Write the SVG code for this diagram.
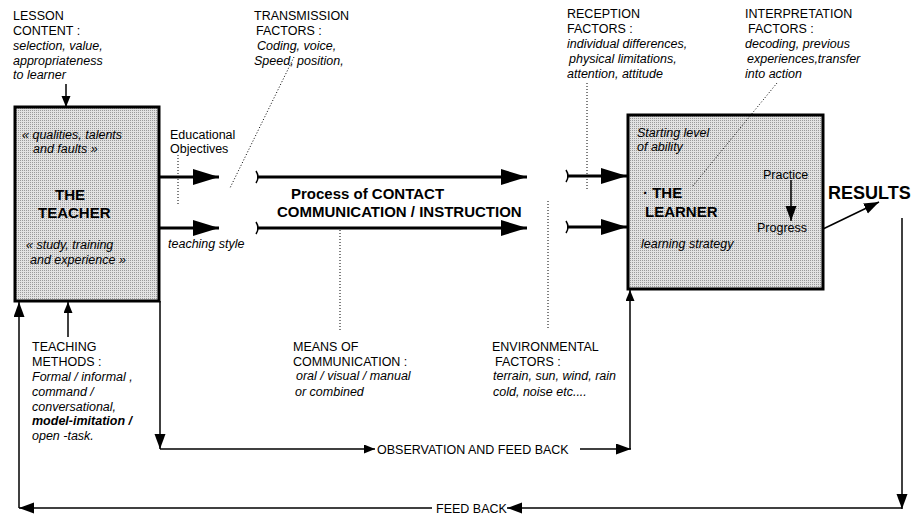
<svg xmlns="http://www.w3.org/2000/svg" width="913" height="515" viewBox="0 0 913 515">
<style>
text{font-family:"Liberation Sans",Arial,sans-serif;font-size:12.5px;fill:#000}
.i{font-style:italic}
.b{font-weight:bold;font-size:15px}
.box{fill:url(#dots);stroke:#000;stroke-width:3}
.thin{stroke:#000;stroke-width:1.5;fill:none}
.thick{stroke:#000;stroke-width:3;fill:none}
.dot{stroke:#000;stroke-width:1;stroke-dasharray:1 2;fill:none}
</style>
<defs>
<pattern id="dots" width="2" height="2" patternUnits="userSpaceOnUse">
<rect width="2" height="2" fill="#e2e2e2"/>
<rect width="1" height="1" fill="#9a9a9a"/>
</pattern>
<marker id="big" markerUnits="userSpaceOnUse" markerWidth="28" markerHeight="18" refX="26" refY="8" orient="auto">
<path d="M0,0 L26,8 L0,16 z" fill="#000"/>
</marker>
<marker id="sm" markerUnits="userSpaceOnUse" markerWidth="12" markerHeight="10" refX="11" refY="4.5" orient="auto">
<path d="M0,0 L11,4.5 L0,9 z" fill="#000"/>
</marker>
<marker id="med" markerUnits="userSpaceOnUse" markerWidth="16" markerHeight="12" refX="15" refY="5.5" orient="auto">
<path d="M0,0 L15,5.5 L0,11 z" fill="#000"/>
</marker>
</defs>

<g id="teacher">
<rect class="box" x="15" y="107" width="144" height="194"/>
<text class="i" x="22" y="139">« qualities, talents</text>
<text class="i" x="33" y="153">and faults »</text>
<text class="b" x="55" y="200">THE</text>
<text class="b" x="38" y="218">TEACHER</text>
<text class="i" x="26" y="249">« study, training</text>
<text class="i" x="30" y="264">and experience »</text>
</g>

<g id="learner">
<rect class="box" x="628" y="115" width="195" height="174"/>
<text class="i" x="637" y="137">Starting level</text>
<text class="i" x="637" y="151">of ability</text>
<text class="b" x="643" y="198">· THE</text>
<text class="b" x="645" y="217">LEARNER</text>
<text class="i" x="641" y="248">learning strategy</text>
<text x="763" y="179">Practice</text>
<text x="757" y="232">Progress</text>
</g>

<g id="lesson-content">
<text x="13" y="19.5">LESSON</text>
<text x="13" y="34.5">CONTENT :</text>
<text class="i" x="13" y="49.5">selection, value,</text>
<text class="i" x="13" y="64.5">appropriateness</text>
<text class="i" x="13" y="79">to learner</text>
</g>

<g id="transmission">
<text x="254" y="19.5">TRANSMISSION</text>
<text x="256" y="34.5">FACTORS :</text>
<text class="i" x="257" y="49.5">Coding, voice,</text>
<text class="i" x="254" y="64.5">Speed, position,</text>
</g>

<g id="reception">
<text x="567" y="18">RECEPTION</text>
<text x="567" y="33">FACTORS :</text>
<text class="i" x="567" y="48">individual differences,</text>
<text class="i" x="569" y="63">physical limitations,</text>
<text class="i" x="567" y="78">attention, attitude</text>
</g>

<g id="interpretation">
<text x="745" y="18">INTERPRETATION</text>
<text x="748" y="33">FACTORS :</text>
<text class="i" x="745" y="48">decoding, previous</text>
<text class="i" x="747" y="63">experiences,transfer</text>
<text class="i" x="745" y="78">into action</text>
</g>

<g id="objectives">
<text x="170" y="139">Educational</text>
<text x="170" y="153">Objectives</text>
</g>
<g id="teaching-style"><text class="i" x="168" y="248">teaching style</text></g>

<g id="process">
<text class="b" x="291" y="199">Process of CONTACT</text>
<text class="b" x="277" y="217">COMMUNICATION / INSTRUCTION</text>
</g>

<g id="results"><text x="828" y="199" style="font-weight:bold;font-size:18px">RESULTS</text></g>

<g id="teaching-methods">
<text x="32" y="351">TEACHING</text>
<text x="32" y="366">METHODS :</text>
<text class="i" x="32" y="381">Formal / informal ,</text>
<text class="i" x="32" y="396">command /</text>
<text class="i" x="32" y="411">conversational,</text>
<text class="i" x="32" y="425" style="font-weight:bold">model-imitation /</text>
<text class="i" x="32" y="440">open -task.</text>
</g>

<g id="means">
<text x="293" y="351">MEANS OF</text>
<text x="293" y="366">COMMUNICATION :</text>
<text class="i" x="296" y="380">oral / visual / manual</text>
<text class="i" x="295" y="396">or  combined</text>
</g>

<g id="environmental">
<text x="492" y="351">ENVIRONMENTAL</text>
<text x="495" y="366">FACTORS :</text>
<text class="i" x="493" y="380">terrain, sun, wind, rain</text>
<text class="i" x="493" y="396">cold, noise etc....</text>
</g>

<g id="labels">
<text x="377" y="453.5">OBSERVATION AND FEED BACK</text>
<text x="436" y="512.5">FEED BACK</text>
</g>

<g id="connectors">
<line class="thin" x1="66" y1="84" x2="66" y2="107" marker-end="url(#sm)"/>
<line class="thin" x1="68" y1="337" x2="68" y2="302" marker-end="url(#sm)"/>
<line class="thick" x1="160" y1="177" x2="219" y2="177" marker-end="url(#big)"/>
<line class="thick" x1="160" y1="228" x2="219" y2="228" marker-end="url(#big)"/>
<path class="thin" d="M256,171 Q260,177 256,183"/>
<line class="thick" x1="257" y1="177" x2="527" y2="177" marker-end="url(#big)"/>
<path class="thin" d="M256,222 Q260,228 256,234"/>
<line class="thick" x1="257" y1="228" x2="527" y2="228" marker-end="url(#big)"/>
<path class="thin" d="M566,170 Q570,176 566,182"/>
<line class="thick" x1="567" y1="176" x2="627" y2="176" marker-end="url(#big)"/>
<path class="thin" d="M566,221 Q570,227 566,233"/>
<line class="thick" x1="567" y1="227" x2="627" y2="227" marker-end="url(#big)"/>
<line class="thin" x1="791" y1="180" x2="791" y2="221" marker-end="url(#med)"/>
<line class="thin" x1="823" y1="229" x2="879" y2="202" marker-end="url(#med)"/>
<line class="thin" x1="902" y1="218" x2="902" y2="509" marker-end="url(#med)"/>
<line class="thin" x1="902" y1="508" x2="507" y2="508" marker-end="url(#med)"/>
<line class="thin" x1="432" y1="508" x2="19" y2="508" marker-end="url(#med)"/>
<line class="thin" x1="19" y1="508" x2="19" y2="302" marker-end="url(#med)"/>
<line class="thin" x1="160" y1="301" x2="160" y2="449" marker-end="url(#med)"/>
<line class="thin" x1="160" y1="449" x2="375" y2="449" marker-end="url(#sm)"/>
<line class="thin" x1="580" y1="449" x2="631" y2="449" marker-end="url(#med)"/>
<line class="thin" x1="630" y1="449" x2="630" y2="290" marker-end="url(#sm)"/>
<line class="dot" x1="178" y1="155" x2="178" y2="205"/>
<line class="dot" x1="294" y1="57" x2="230" y2="188"/>
<line class="dot" x1="340" y1="230" x2="340" y2="330"/>
<line class="dot" x1="548" y1="201" x2="548" y2="330"/>
<line class="dot" x1="587" y1="83" x2="587" y2="191"/>
<line class="dot" x1="777" y1="83" x2="692" y2="187"/>
</g>
</svg>
